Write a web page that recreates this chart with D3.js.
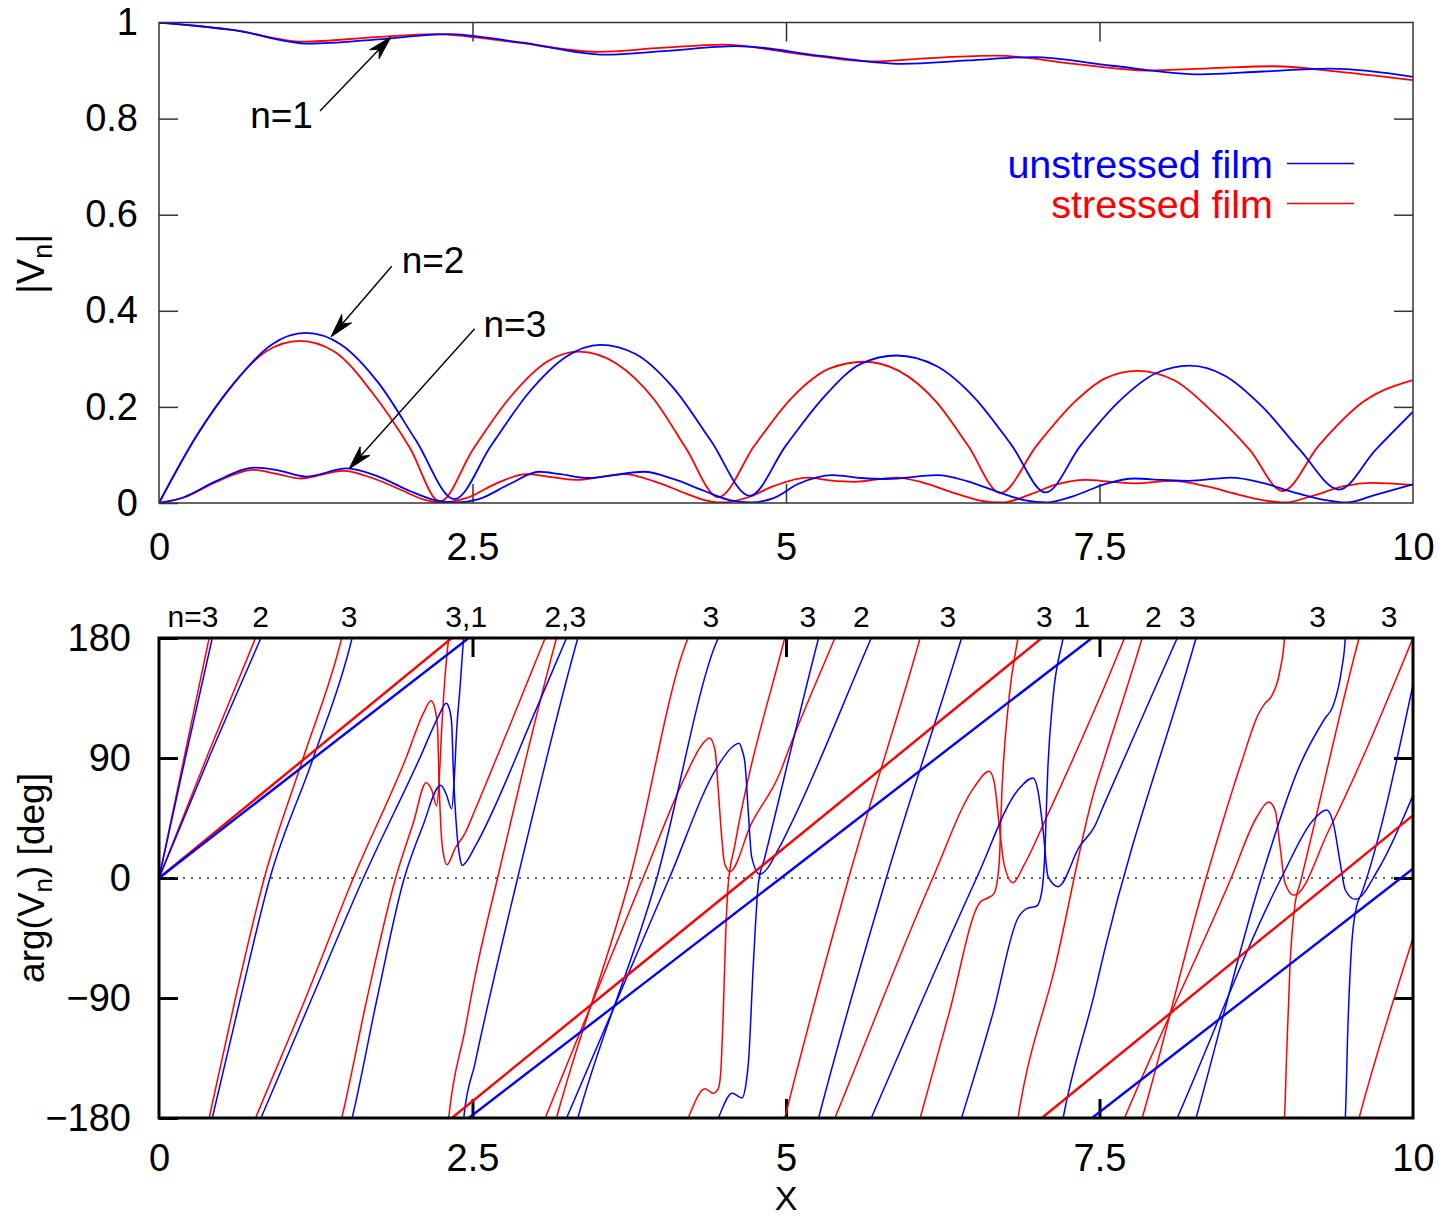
<!DOCTYPE html>
<html><head><meta charset="utf-8">
<script src="https://cdn.jsdelivr.net/npm/d3@7"></script>
<style>body{margin:0;background:#fff} text{font-family:"Liberation Sans",Arial,Helvetica,sans-serif}</style>
</head><body><svg id="c" width="1453" height="1219"></svg>
<script>
// ---------- data ----------
const xTicks = [0, 2.5, 5, 7.5, 10];
const xTickLabels = ["0", "2.5", "5", "7.5", "10"];
const magTicks = [0, 0.2, 0.4, 0.6, 0.8, 1];
const magTickLabels = ["0", "0.2", "0.4", "0.6", "0.8", "1"];
const phaseTicks = [-180, -90, 0, 90, 180];
const phaseTickLabels = ["\u2212180", "\u221290", "0", "90", "180"];
const seriesNames = ["unstressed film", "stressed film"];

// |V_n| (X, value)
const magUnstressedN1 = [[0,1],[0.6,0.984],[1.2,0.956],[1.75,0.965],[2.3,0.976],[2.9,0.958],[3.55,0.933],[4.05,0.941],[4.6,0.951],[5.3,0.93],[5.93,0.914],[6.45,0.921],[6.97,0.928],[7.6,0.91],[8.31,0.892],[8.8,0.898],[9.35,0.904],[10,0.887]];
const magStressedN1 = [[0,1],[0.6,0.984],[1.15,0.96],[1.7,0.969],[2.2,0.976],[2.8,0.96],[3.5,0.939],[4.0,0.947],[4.5,0.954],[5.1,0.935],[5.67,0.919],[6.15,0.926],[6.68,0.931],[7.3,0.914],[7.88,0.9],[8.4,0.905],[8.89,0.909],[9.45,0.896],[10,0.88]];
const magUnstressedN2 = [[0,0],[0.3,0.14],[0.6,0.25],[0.9,0.33],[1.17,0.354],[1.45,0.33],[1.75,0.25],[2.05,0.13],[2.355,0.008],[2.65,0.12],[2.95,0.23],[3.25,0.305],[3.52,0.329],[3.8,0.31],[4.1,0.24],[4.4,0.13],[4.71,0.015],[5.0,0.12],[5.3,0.22],[5.6,0.29],[5.88,0.307],[6.2,0.285],[6.5,0.22],[6.8,0.12],[7.07,0.022],[7.35,0.12],[7.65,0.21],[7.95,0.27],[8.22,0.286],[8.5,0.265],[8.8,0.2],[9.1,0.11],[9.41,0.028],[9.7,0.11],[10,0.19]];
const magStressedN2 = [[0,0],[0.3,0.14],[0.6,0.25],[0.85,0.315],[1.124,0.3375],[1.4,0.315],[1.7,0.23],[2.0,0.115],[2.24,0.003],[2.5,0.11],[2.8,0.22],[3.1,0.295],[3.35,0.315],[3.65,0.29],[3.95,0.215],[4.2,0.115],[4.46,0.012],[4.75,0.12],[5.05,0.22],[5.35,0.28],[5.62,0.294],[5.9,0.275],[6.2,0.21],[6.45,0.12],[6.71,0.021],[7.0,0.12],[7.3,0.21],[7.55,0.26],[7.8,0.275],[8.1,0.255],[8.4,0.19],[8.7,0.11],[8.96,0.025],[9.25,0.12],[9.6,0.21],[10,0.256]];
const magUnstressedN3 = [[0,0],[0.2,0.012],[0.45,0.045],[0.77,0.0736],[0.95,0.068],[1.17,0.055],[1.5,0.072],[1.75,0.055],[2.0,0.025],[2.2,0.006],[2.37,0.001],[2.55,0.008],[2.8,0.04],[3.03,0.065],[3.2,0.06],[3.42,0.052],[3.87,0.065],[4.1,0.05],[4.35,0.025],[4.55,0.006],[4.72,0.001],[4.9,0.01],[5.1,0.04],[5.37,0.058],[5.6,0.052],[5.8,0.05],[6.21,0.058],[6.45,0.045],[6.7,0.022],[6.9,0.006],[7.08,0.001],[7.3,0.015],[7.55,0.04],[7.78,0.051],[8.0,0.048],[8.21,0.046],[8.55,0.053],[8.8,0.042],[9.05,0.022],[9.3,0.006],[9.47,0.001],[9.7,0.017],[10,0.039]];
const magStressedN3 = [[0,0],[0.2,0.012],[0.45,0.043],[0.75,0.069],[0.95,0.06],[1.124,0.051],[1.47,0.067],[1.7,0.052],[1.95,0.025],[2.1,0.008],[2.25,0.001],[2.45,0.01],[2.7,0.042],[2.93,0.06],[3.1,0.055],[3.32,0.048],[3.71,0.06],[3.95,0.045],[4.2,0.02],[4.35,0.006],[4.48,0.001],[4.7,0.012],[4.9,0.035],[5.17,0.053],[5.35,0.047],[5.54,0.044],[5.88,0.053],[6.1,0.042],[6.35,0.02],[6.55,0.005],[6.72,0.001],[6.95,0.018],[7.15,0.038],[7.39,0.048],[7.6,0.044],[7.78,0.041],[8.08,0.046],[8.35,0.035],[8.6,0.018],[8.8,0.006],[8.98,0.001],[9.2,0.015],[9.45,0.035],[9.67,0.042],[10,0.0375]];

// arg(V_n), unwrapped phase in degrees (X, deg); shown modulo 360 in [-180,180]
const phaseUnstressedN1 = [[0,0],[2.47,180],[4.96,360],[7.44,540],[10,727]];
const phaseStressedN1 = [[0,0],[2.335,180],[4.69,360],[7.04,540],[10,767]];
const phaseUnstressedN2 = [[0,0],[0.42,95],[0.813,180],[1.22,270],[1.63,360],[2.08,450],[2.228,481],[2.29,491],[2.315,487],[2.334,476],[2.347,441],[2.374,396],[2.40,375],[2.419,369.5],[2.44,371],[2.52,383.5],[3.01,487],[3.25,540],[4.07,720],[4.45,803],[4.58,819],[4.625,821],[4.65,816],[4.673,806],[4.70,768.5],[4.726,736],[4.79,722.75],[4.95,743.5],[5.03,758.5],[5.68,900],[6.52,1080],[6.85,1146],[6.97,1155],[7.01,1145],[7.05,1116],[7.09,1081],[7.17,1073.5],[7.34,1103.5],[7.46,1118.5],[7.54,1136],[8.12,1260],[8.95,1440],[9.20,1483],[9.31,1491],[9.365,1481],[9.42,1451],[9.46,1431],[9.54,1424],[9.72,1446],[10,1502]];
const phaseStressedN2 = [[0,0],[0.40,95],[0.77,180],[1.17,270],[1.55,360],[1.97,450],[2.108,483.5],[2.17,493],[2.205,485],[2.222,471],[2.233,433.5],[2.249,396],[2.27,377],[2.297,370],[2.36,382],[2.44,393.5],[2.52,411],[2.80,475],[3.08,540],[3.86,720],[4.20,797],[4.33,820],[4.39,825],[4.434,816],[4.46,786],[4.487,751],[4.51,731],[4.553,724.75],[4.72,760],[4.95,798.5],[5.03,818.5],[5.39,900],[6.17,1080],[6.50,1148],[6.62,1160],[6.66,1152],[6.70,1120],[6.74,1090],[6.81,1076.5],[6.90,1090],[7.08,1126],[7.46,1206],[7.54,1223.5],[7.70,1260],[8.55,1440],[8.75,1485],[8.85,1497],[8.90,1491],[8.94,1463.5],[8.98,1436],[9.05,1427],[9.33,1476],[10,1620]];
const phaseUnstressedN3 = [[0,0],[0.21,90],[0.425,180],[0.65,270],[0.885,360],[1.23,450],[1.54,540],[1.74,630],[1.956,720],[2.10,758],[2.246,789.5],[2.29,783],[2.334,772],[2.355,795],[2.374,831],[2.40,862],[2.43,900],[2.52,941],[2.86,1080],[3.34,1260],[3.97,1440],[4.46,1620],[4.57,1638.5],[4.65,1635],[4.68,1645],[4.70,1661],[4.74,1736],[4.78,1796],[4.83,1815],[5.26,1980],[5.80,2160],[6.40,2340],[6.65,2418.5],[6.85,2490],[6.92,2497],[7.00,2499],[7.04,2510],[7.06,2531],[7.09,2606],[7.13,2656],[7.21,2700],[7.46,2793.5],[7.54,2825.5],[8.27,3060],[8.79,3240],[9.10,3325],[9.30,3360],[9.36,3368.5],[9.43,3396],[9.46,3420],[9.48,3486],[9.51,3548.5],[9.55,3578.5],[9.59,3588.5],[10,3745]];
const phaseStressedN3 = [[0,0],[0.20,90],[0.40,180],[0.61,270],[0.84,360],[1.15,450],[1.457,540],[1.66,630],[1.887,720],[2.03,762],[2.13,791.5],[2.175,786],[2.214,774],[2.235,795],[2.254,831],[2.28,870],[2.31,900],[2.44,966],[2.52,1006],[2.70,1080],[3.17,1260],[3.756,1440],[4.22,1620],[4.354,1642],[4.42,1638.5],[4.46,1642],[4.48,1655],[4.50,1700],[4.52,1760],[4.54,1796],[4.59,1823.5],[4.99,1980],[5.50,2160],[6.07,2340],[6.30,2418.5],[6.55,2502],[6.61,2505],[6.66,2508.5],[6.70,2531],[6.72,2581],[6.78,2656],[6.85,2700],[7.15,2815],[7.46,2946],[7.54,2970],[7.84,3060],[8.35,3240],[8.63,3326],[8.77,3363.5],[8.82,3371],[8.87,3376],[8.94,3396],[8.975,3420],[8.99,3461],[9.02,3536],[9.06,3581],[9.10,3596],[9.57,3780],[10,3915]];

// labels above lower panel (X position, text)
const topRowLabels = [[0.474,"n=3","end"],[0.81,"2"],[1.515,"3"],[2.45,"3,1"],[3.24,"2,3"],[4.40,"3"],[5.175,"3"],[5.60,"2"],[6.29,"3"],[7.06,"3"],[7.36,"1"],[7.93,"2"],[8.20,"3"],[9.24,"3"],[9.81,"3"]];
// annotations in upper panel: text anchor (X,v) and arrow from (X,v) to tip (X,v)
const annotations = [
  {text:"n=1", tx:0.727, tv:0.78, from:[1.284,0.8156], to:[1.85,0.97]},
  {text:"n=2", tx:1.935, tv:0.479, from:[1.856,0.4927], to:[1.372,0.3458]},
  {text:"n=3", tx:2.588, tv:0.346, from:[2.517,0.3625], to:[1.515,0.0708]}
];

// ---------- drawing ----------
const BLUE = "#0000ff", RED = "#ff0000";
const svg = d3.select("#c");
svg.append("rect").attr("width",1453).attr("height",1219).attr("fill","#fff");

const L = 159, R = 1413;
const x = d3.scaleLinear().domain([0,10]).range([L,R]);
const yMag = d3.scaleLinear().domain([0,1]).range([503,22.5]);
const yPh = d3.scaleLinear().domain([-180,180]).range([1118,638]);
const FS = 37, TFS = 38;

function styleAxis(g, color, w){
  g.select(".domain").remove();
  g.selectAll(".tick line").attr("stroke",color).attr("stroke-width",w);
  g.selectAll(".tick text").attr("font-size",TFS).attr("fill","#000")
   .attr("font-family",'"Liberation Sans",Arial,sans-serif');
}

// ---- top panel ----
const defs = svg.append("defs");
defs.append("clipPath").attr("id","clipTop")
  .append("rect").attr("x",L).attr("y",22.5).attr("width",R-L).attr("height",503-22.5);
defs.append("clipPath").attr("id","clipBot")
  .append("rect").attr("x",L).attr("y",638).attr("width",R-L).attr("height",480);

const topL = svg.append("g").attr("transform",`translate(${L},0)`)
  .call(d3.axisLeft(yMag).tickValues(magTicks).tickSize(-19).tickPadding(21).tickFormat((d,i)=>magTickLabels[i]));
styleAxis(topL,"#333",1.5);
const topR = svg.append("g").attr("transform",`translate(${R},0)`)
  .call(d3.axisRight(yMag).tickValues(magTicks.slice(1,-1)).tickSize(-19).tickFormat(""));
styleAxis(topR,"#333",1.5);
const topB = svg.append("g").attr("transform",`translate(0,503)`)
  .call(d3.axisBottom(x).tickValues(xTicks).tickSize(-19).tickPadding(30).tickFormat((d,i)=>xTickLabels[i]));
styleAxis(topB,"#333",1.5);
topB.selectAll(".tick line").filter(d=>d===0||d===10).remove();
const topT = svg.append("g").attr("transform",`translate(0,22.5)`)
  .call(d3.axisTop(x).tickValues(xTicks.slice(1,-1)).tickSize(-19).tickFormat(""));
styleAxis(topT,"#333",1.5);

const magLine = d3.line().x(d=>x(d[0])).y(d=>yMag(d[1])).curve(d3.curveMonotoneX);
const gTop = svg.append("g").attr("clip-path","url(#clipTop)");
[[magStressedN2,RED],[magStressedN3,RED],[magStressedN1,RED],
 [magUnstressedN2,BLUE],[magUnstressedN3,BLUE],[magUnstressedN1,BLUE]].forEach(([d,c])=>{
  gTop.append("path").datum(d).attr("d",magLine).attr("fill","none").attr("stroke",c).attr("stroke-width",1.8);
});
svg.append("rect").attr("x",L).attr("y",22.5).attr("width",R-L).attr("height",503-22.5)
  .attr("fill","none").attr("stroke","#333").attr("stroke-width",1.5);

// legend
const legY = [163.5, 203.5];
[[seriesNames[0],BLUE],[seriesNames[1],RED]].forEach(([t,c],i)=>{
  svg.append("text").attr("x",1273).attr("y",legY[i]+14).attr("text-anchor","end")
    .attr("font-size",39.5).attr("fill",c).text(t);
  svg.append("line").attr("x1",1287).attr("x2",1354).attr("y1",legY[i]).attr("y2",legY[i])
    .attr("stroke",c).attr("stroke-width",1.6);
});

// annotations
function arrow(x1,y1,x2,y2){
  const a = Math.atan2(y2-y1,x2-x1), len=24, hw=6.5, notch=17;
  const bx = x2 - len*Math.cos(a), by = y2 - len*Math.sin(a);
  const nx = x2 - notch*Math.cos(a), ny = y2 - notch*Math.sin(a);
  svg.append("line").attr("x1",x1).attr("y1",y1).attr("x2",nx).attr("y2",ny)
    .attr("stroke","#000").attr("stroke-width",1.4);
  const p1=[bx - hw*Math.sin(a), by + hw*Math.cos(a)], p2=[bx + hw*Math.sin(a), by - hw*Math.cos(a)];
  svg.append("path").attr("d",`M${x2},${y2}L${p1[0]},${p1[1]}L${nx},${ny}L${p2[0]},${p2[1]}Z`)
    .attr("fill","#000").attr("stroke","#000").attr("stroke-width",1);
}
annotations.forEach(an=>{
  svg.append("text").attr("x",x(an.tx)).attr("y",yMag(an.tv)).attr("font-size",FS).text(an.text);
  arrow(x(an.from[0]),yMag(an.from[1]),x(an.to[0]),yMag(an.to[1]));
});

// y title top
const t1 = svg.append("text").attr("transform","translate(44,264) rotate(-90)")
  .attr("text-anchor","middle").attr("font-size",FS+1);
t1.append("tspan").text("|V");
t1.append("tspan").attr("font-size",27).attr("dy",8).text("n");
t1.append("tspan").attr("dy",-8).text("|");

// ---- bottom panel ----
const botL = svg.append("g").attr("transform",`translate(${L},0)`)
  .call(d3.axisLeft(yPh).tickValues(phaseTicks).tickSize(-19).tickPadding(28).tickFormat((d,i)=>phaseTickLabels[i]));
styleAxis(botL,"#000",3);
const botR = svg.append("g").attr("transform",`translate(${R},0)`)
  .call(d3.axisRight(yPh).tickValues([-90,0,90]).tickSize(-19).tickFormat(""));
styleAxis(botR,"#000",3);
const botB = svg.append("g").attr("transform",`translate(0,1118)`)
  .call(d3.axisBottom(x).tickValues(xTicks).tickSize(-19).tickPadding(26).tickFormat((d,i)=>xTickLabels[i]));
styleAxis(botB,"#000",3);
botB.selectAll(".tick line").filter(d=>d===0||d===10).remove();
const botT = svg.append("g").attr("transform",`translate(0,638)`)
  .call(d3.axisTop(x).tickValues(xTicks.slice(1,-1)).tickSize(-19).tickFormat(""));
styleAxis(botT,"#000",3);

// zero line
svg.append("line").attr("x1",L).attr("x2",R).attr("y1",yPh(0)).attr("y2",yPh(0))
  .attr("stroke","#333").attr("stroke-width",1.5).attr("stroke-dasharray","2,6");

const gBot = svg.append("g").attr("clip-path","url(#clipBot)");
function drawPhase(data,color,w){
  const maxP = d3.max(data,d=>d[1]);
  const kMax = Math.ceil((maxP+180)/360);
  for(let k=0;k<=kMax;k++){
    const ln = d3.line().x(d=>x(d[0])).y(d=>yPh(d[1]-360*k)).curve(d3.curveMonotoneX);
    gBot.append("path").datum(data).attr("d",ln).attr("fill","none")
      .attr("stroke",color).attr("stroke-width",w).attr("stroke-linejoin","round");
  }
}
drawPhase(phaseStressedN3,RED,1.5);
drawPhase(phaseStressedN2,RED,1.5);
drawPhase(phaseUnstressedN3,BLUE,1.5);
drawPhase(phaseUnstressedN2,BLUE,1.5);
drawPhase(phaseStressedN1,RED,2.4);
drawPhase(phaseUnstressedN1,BLUE,2.4);

svg.append("rect").attr("x",L).attr("y",638).attr("width",R-L).attr("height",480)
  .attr("fill","none").attr("stroke","#000").attr("stroke-width",3);

// labels above lower panel
topRowLabels.forEach(([xv,t,anc])=>{
  svg.append("text").attr("x",x(xv)).attr("y",627).attr("text-anchor",anc||"middle")
    .attr("font-size",30).text(t);
});

// y title bottom
const t2 = svg.append("text").attr("transform","translate(44,878) rotate(-90)")
  .attr("text-anchor","middle").attr("font-size",FS);
t2.append("tspan").text("arg(V");
t2.append("tspan").attr("font-size",26).attr("dy",8).text("n");
t2.append("tspan").attr("dy",-8).text(") [deg]");

// x title
svg.append("text").attr("x",786).attr("y",1210).attr("text-anchor","middle").attr("font-size",34).text("X");
</script></body></html>
